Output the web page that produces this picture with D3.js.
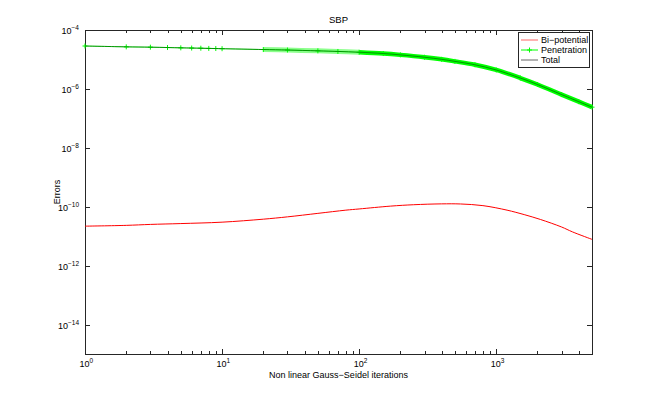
<!DOCTYPE html>
<html>
<head>
<meta charset="utf-8">
<script src="https://cdn.jsdelivr.net/npm/d3@7/dist/d3.min.js"></script>
<style>
	body { margin: 0; background: #fff; }
	text { font-family: "Liberation Sans", Arial, sans-serif; fill: #000; }
</style>
</head>
<body>
<svg id="chart" width="654" height="398"></svg>
<script>
'use strict';

// penetration error
var penIters	= [1, 2, 3, 4, 5, 6, 7, 8, 9, 10, 20, 30, 50, 70, 100, 150, 200, 300, 400, 500, 700, 1000, 1500, 2000, 3000, 4000, 5000];
var penValues	= [2.86e-5, 2.68e-5, 2.61e-5, 2.54e-5, 2.48e-5, 2.44e-5, 2.41e-5, 2.37e-5, 2.35e-5, 2.32e-5, 2.17e-5, 2.09e-5, 1.96e-5, 1.87e-5, 1.76e-5, 1.59e-5, 1.43e-5, 1.19e-5, 1.01e-5, 8.6e-6, 6.6e-6, 4.4e-6, 2.34e-6, 1.41e-6, 6.43e-7, 3.69e-7, 2.4e-7];

// total error (sits on top of the penetration curve)
var totalIters	= [1, 2, 3, 5, 10, 20, 30, 50, 70, 100, 150, 200, 300, 400, 500, 700, 1000, 1500, 2000, 3000, 4000, 5000];
var totalValues	= [2.86e-5, 2.68e-5, 2.61e-5, 2.48e-5, 2.32e-5, 2.17e-5, 2.09e-5, 1.96e-5, 1.87e-5, 1.76e-5, 1.59e-5, 1.43e-5, 1.19e-5, 1.01e-5, 8.6e-6, 6.6e-6, 4.4e-6, 2.34e-6, 1.41e-6, 6.43e-7, 3.69e-7, 2.4e-7];

// bi-potential error
var biIters		= [1, 2, 3, 5, 10, 20, 30, 50, 80, 100, 170, 250, 400, 550, 800, 1200, 1600, 2100, 3000, 3600, 5000];
var biValues	= [2.19e-11, 2.33e-11, 2.51e-11, 2.68e-11, 2.99e-11, 3.78e-11, 4.53e-11, 5.95e-11, 7.65e-11, 8.4e-11, 1.05e-10, 1.17e-10, 1.25e-10, 1.24e-10, 1.09e-10, 7.65e-11, 5.4e-11, 3.7e-11, 2.05e-11, 1.4e-11, 7.8e-12];

// axes
var xTicks		= [1, 10, 100, 1000];
var xTickExp	= ['0', '1', '2', '3'];
var yTicks		= [1e-4, 1e-6, 1e-8, 1e-10, 1e-12, 1e-14];
var yTickExp	= ['\u22124', '\u22126', '\u22128', '\u221210', '\u221212', '\u221214'];
var seriesNames	= ['Bi\u2212potential', 'Penetration', 'Total'];
var seriesColors = ['#ff0000', '#00ff00', '#000000'];

// layout
var plotLeft = 85, plotRight = 592, plotTop = 30, plotBottom = 354;
var svg = d3.select('#chart');

var x = d3.scaleLog().domain([1, 5000]).range([plotLeft, plotRight]);
var y = d3.scaleLog().domain([1e-15, 1e-4]).range([plotBottom, plotTop]);

// minor x ticks (2..9 per decade)
var xMinor = [];
for (var k = 0; k <= 3; k++){
	for (var m = 2; m <= 9; m++){
		var v = m * Math.pow(10, k);
		if (v < 5000){ xMinor.push(v); }
	}
}

var axisColor = '#262626';

// frame
svg.append('rect')
	.attr('x', plotLeft + 0.5).attr('y', plotTop + 0.5)
	.attr('width', plotRight - plotLeft).attr('height', plotBottom - plotTop)
	.attr('fill', 'none').attr('stroke', axisColor).attr('stroke-width', 1)
	.attr('shape-rendering', 'crispEdges');

// ticks
var tickGroup = svg.append('g').attr('stroke', axisColor).attr('shape-rendering', 'crispEdges');

function xTick(v, len){
	var px = Math.round(x(v)) + 0.5;
	tickGroup.append('line').attr('x1', px).attr('x2', px).attr('y1', plotBottom).attr('y2', plotBottom - len);
	tickGroup.append('line').attr('x1', px).attr('x2', px).attr('y1', plotTop).attr('y2', plotTop + len);
}
xTicks.forEach(function(v){ xTick(v, 5); });
xMinor.forEach(function(v){ xTick(v, 3); });

yTicks.forEach(function(v){
	var py = Math.round(y(v)) + 0.5;
	tickGroup.append('line').attr('x1', plotLeft).attr('x2', plotLeft + 5).attr('y1', py).attr('y2', py);
	tickGroup.append('line').attr('x1', plotRight).attr('x2', plotRight - 5).attr('y1', py).attr('y2', py);
});

// x tick labels
xTicks.forEach(function(v, i){
	var t = svg.append('text')
		.attr('x', x(v) - 5.5)
		.attr('y', plotBottom + 13)
		.style('font-size', '9px');
	t.append('tspan').text('10');
	t.append('tspan').attr('dy', -4).style('font-size', '6.5px').text(xTickExp[i]);
});

// y tick labels
yTicks.forEach(function(v, i){
	var t = svg.append('text')
		.attr('x', plotLeft - 6)
		.attr('y', y(v) + 4)
		.attr('text-anchor', 'end')
		.style('font-size', '9px');
	t.append('tspan').text('10');
	t.append('tspan').attr('dy', -4).style('font-size', '6.5px').text(yTickExp[i]);
});

// title and axis labels
svg.append('text').attr('x', (plotLeft + plotRight) / 2).attr('y', 23)
	.attr('text-anchor', 'middle').style('font-size', '9.5px').text('SBP');
svg.append('text').attr('x', (plotLeft + plotRight) / 2).attr('y', 378)
	.attr('text-anchor', 'middle').style('font-size', '9px').text('Non linear Gauss\u2212Seidel iterations');
svg.append('text').attr('transform', 'translate(60,' + ((plotTop + plotBottom) / 2) + ') rotate(-90)')
	.attr('text-anchor', 'middle').style('font-size', '9px').text('Errors');

// lines
var line = d3.line()
	.x(function(d){ return x(d[0]); })
	.y(function(d){ return y(d[1]); })
	.curve(d3.curveCatmullRom.alpha(0.5));

var plot = svg.append('g');

var biData = d3.zip(biIters, biValues);
var penData = d3.zip(penIters, penValues);
var totalData = d3.zip(totalIters, totalValues);

plot.append('path').datum(biData)
	.attr('d', line).attr('fill', 'none')
	.attr('stroke', seriesColors[0]).attr('stroke-width', 1);

// penetration: thin line, then the band where markers overlap
plot.append('path').datum(penData)
	.attr('d', line).attr('fill', 'none')
	.attr('stroke', seriesColors[1]).attr('stroke-width', 1);

plot.append('path').datum(penData.filter(function(d){ return d[0] >= 20 && d[0] <= 100; }))
	.attr('d', line).attr('fill', 'none')
	.attr('stroke', seriesColors[1]).attr('stroke-width', 5).attr('stroke-opacity', 0.45);

plot.append('path').datum(penData.filter(function(d){ return d[0] >= 100; }))
	.attr('d', line).attr('fill', 'none')
	.attr('stroke', seriesColors[1]).attr('stroke-width', 4.5);

// plus markers
plot.selectAll('path.mk').data(penData).enter()
	.append('path').attr('class', 'mk')
	.attr('d', function(d){
		var px = x(d[0]), py = y(d[1]);
		return 'M' + (px - 2.5) + ',' + py + 'H' + (px + 2.5) + 'M' + px + ',' + (py - 2.5) + 'V' + (py + 2.5);
	})
	.attr('stroke', seriesColors[1]).attr('stroke-width', 1);

plot.append('path').datum(totalData)
	.attr('d', line).attr('fill', 'none')
	.attr('stroke', seriesColors[2]).attr('stroke-width', 0.6).attr('stroke-opacity', 0.7);

// legend
var lg = svg.append('g');
lg.append('rect').attr('x', 518.5).attr('y', 32.5).attr('width', 71).attr('height', 35)
	.attr('fill', '#fff').attr('stroke', axisColor).attr('shape-rendering', 'crispEdges');

seriesNames.forEach(function(name, i){
	var ry = 40 + i * 10;
	lg.append('line').attr('x1', 521).attr('x2', 538).attr('y1', ry).attr('y2', ry)
		.attr('stroke', seriesColors[i]).attr('stroke-width', 1)
		.attr('stroke-opacity', i === 1 ? 1 : 0.6);
	if (i === 1){
		lg.append('path').attr('d', 'M527,' + ry + 'h5M529.5,' + (ry - 2.5) + 'v5')
			.attr('stroke', seriesColors[1]).attr('stroke-width', 1);
	}
	lg.append('text').attr('x', 541).attr('y', ry + 3.2)
		.style('font-size', '9px').text(name);
});
</script>
</body>
</html>
